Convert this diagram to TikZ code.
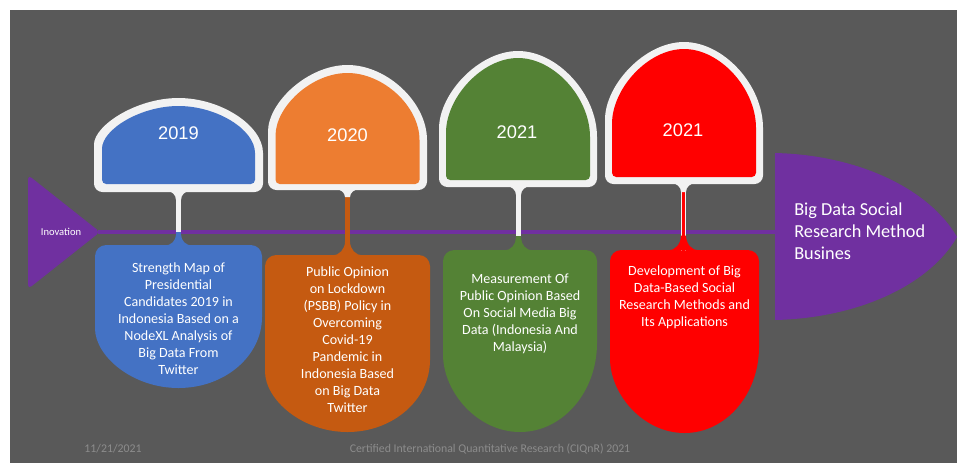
\documentclass[tikz,border=0pt]{standalone}
\usepackage{fontspec}
\setmainfont{Carlito}
\newfontfamily\yearfont{Liberation Sans}
\usetikzlibrary{positioning}
\definecolor{slidegray}{HTML}{595959}
\definecolor{cardwhite}{HTML}{F2F2F2}
\definecolor{tlpurple}{HTML}{7030A0}
\definecolor{tlblue}{HTML}{4472C4}
\definecolor{tlorange}{HTML}{ED7D31}
\definecolor{tlrust}{HTML}{C55A11}
\definecolor{tlgreen}{HTML}{548235}
\definecolor{tlred}{HTML}{FF0000}
\definecolor{footgray}{HTML}{8C8C8C}
% arch with round top: cx, top, bottom, half width, arch height
\newcommand{\archtop}[6]{(#1+#4,#2+#5) [rounded corners=#6] -- (#1+#4,#3) -- (#1-#4,#3) -- (#1-#4,#2+#5) [sharp corners] .. controls (#1-#4,#2+0.5*#5) and (#1-0.5*#4,#2) .. (#1,#2) .. controls (#1+0.5*#4,#2) and (#1+#4,#2+0.5*#5) .. (#1+#4,#2+#5) -- cycle}
% box with round bottom: cx, top, bottom, half width, cup height
\newcommand{\cupbottom}[5]{(#1+#4,#3-#5) [rounded corners=8pt] -- (#1+#4,#2) -- (#1-#4,#2) -- (#1-#4,#3-#5) [sharp corners] .. controls (#1-#4,#3-0.448*#5) and (#1-0.552*#4,#3) .. (#1,#3) .. controls (#1+0.552*#4,#3) and (#1+#4,#3-0.448*#5) .. (#1+#4,#3-#5) -- cycle}
% fillet where a stem meets an edge: cx, y, signed radius (+ up, - down), radius
\newcommand{\flare}[4]{(#1-2.5-#4,#2) .. controls (#1-2.5-0.448*#4,#2) and (#1-2.5,{#2-0.448*#3}) .. (#1-2.5,{#2-#3}) -- (#1+2.5,{#2-#3}) .. controls (#1+2.5,{#2-0.448*#3}) and (#1+2.5+0.448*#4,#2) .. (#1+2.5+#4,#2) -- cycle}

\begin{document}
\begin{tikzpicture}[x=0.025cm,y=-0.025cm,
		yearlabel/.style={text=white,font=\yearfont\fontsize{13}{15}\selectfont},
		desc/.style={text=white,align=center,inner sep=0pt,font=\fontsize{10}{12.1}\selectfont},
		stem/.style={line width=3.4pt},
		footer/.style={text=footgray,font=\fontsize{8.4}{10}\selectfont}
		]
		\useasboundingbox (0,0) rectangle (957,463);
		\fill[white] (0,0) rectangle (957,463);
		\fill[slidegray] (10,10) rectangle (957,463);

		% start and goal
		\fill[tlpurple,rounded corners=3pt] (28,175) -- (100,232) -- (28,289) -- cycle;
		\node[text=white,font=\fontsize{7.5}{9}\selectfont] (inov) at (61,232) {Inovation};
		\fill[tlpurple] (775,153) .. controls (860,155) and (930,190) .. (957,237) .. controls (930,284) and (860,318) .. (775,320) -- cycle;
		\node[anchor=west,align=left,inner sep=0pt,text=white,font=\fontsize{13}{15.6}\selectfont] (goal) at (794,231) {Big Data Social\\Research Method\\Busines};
		\coordinate (tip) at (98,232);
		\coordinate (goalL) at (776,232);
		\draw[tlpurple,line width=2.8pt] (tip) -- (goalL);

		% year cards
		\fill[cardwhite] \archtop{178.5}{98}{192}{84.5}{55}{6pt};
		\fill[tlblue] \archtop{178.5}{106}{184}{76.5}{47}{3pt};
		\fill[cardwhite] \archtop{347.5}{65}{190}{79.5}{75}{6pt};
		\fill[tlorange] \archtop{347.5}{73}{184}{72}{67}{3pt};
		\fill[cardwhite] \archtop{518}{51}{187}{79}{86}{6pt};
		\fill[tlgreen] \archtop{518}{58}{180}{72}{79}{3pt};
		\fill[cardwhite] \archtop{684}{42}{184}{79}{86}{6pt};
		\fill[tlred] \archtop{684}{49}{177}{72}{79}{3pt};
		\node[yearlabel] (y1) at (178.5,133) {2019};
		\node[yearlabel] (y2) at (347.5,135) {2020};
		\node[yearlabel] (y3) at (517,132) {2021};
		\node[yearlabel] (y4) at (683,130) {2021};

		% description boxes
		\fill[tlblue] \cupbottom{178.5}{245}{388}{83.5}{71};
		\fill[tlrust] \cupbottom{347.5}{255}{432}{82.5}{72};
		\fill[tlgreen] \cupbottom{520}{250}{432}{77}{89};
		\fill[tlred] \cupbottom{684.5}{250}{433}{74.5}{86};
		\node[desc] (d1) at (178.5,319) {Strength Map of\\Presidential\\Candidates 2019 in\\Indonesia Based on a\\NodeXL Analysis of\\Big Data From\\Twitter};
		\node[desc] (d2) at (347.5,339.5) {Public Opinion\\on Lockdown\\(PSBB) Policy in\\Overcoming\\Covid-19\\Pandemic in\\Indonesia Based\\on Big Data\\Twitter};
		\node[desc] (d3) at (520,314) {Measurement Of\\Public Opinion Based\\On Social Media Big\\Data (Indonesia And\\Malaysia)};
		\node[desc] (d4) at (684.5,297) {Development of Big\\Data-Based Social\\Research Methods and\\Its Applications};

		% stems between card and box
		\coordinate (c1) at (178.5,190);
		\coordinate (x1) at (178.5,232);
		\coordinate (b1) at (178.5,246);
		\coordinate (c2) at (347.5,196);
		\coordinate (b2) at (347.5,256);
		\coordinate (c3) at (518.5,185);
		\coordinate (x3) at (518.5,236);
		\coordinate (b3) at (518.5,251);
		\coordinate (c4) at (683.5,191);
		\coordinate (b4) at (683.5,251);
		\draw[stem,cardwhite] (c1) -- (x1);
		\draw[stem,tlblue] (x1) -- (b1);
		\draw[stem,tlrust] (c2) -- (b2);
		\draw[stem,cardwhite] (c3) -- (x3);
		\draw[stem,tlgreen] (x3) -- (b3);
		\draw[line width=4.2pt,cardwhite] (c4) -- (b4);
		\draw[line width=2.2pt,tlred] (c4) -- (b4);
		\fill[cardwhite] \flare{178.5}{191}{-9}{9};
		\fill[cardwhite] \flare{347.5}{189}{-8}{10};
		\fill[cardwhite] \flare{518.5}{186}{-9}{10};
		\fill[cardwhite] \flare{683.5}{183}{-9}{10};
		\fill[tlblue] \flare{178.5}{245.5}{11}{11};
		\fill[tlrust] \flare{347.5}{255.5}{14}{13};
		\fill[tlgreen] \flare{518.5}{250.5}{13}{12};
		\fill[tlred] \flare{683.5}{250.5}{15}{13};

		% footer
		\node[footer] (date) at (113,449) {11/21/2021};
		\node[footer] (cert) at (490,449) {Certified International Quantitative Research (CIQnR) 2021};
\end{tikzpicture}
\end{document}
